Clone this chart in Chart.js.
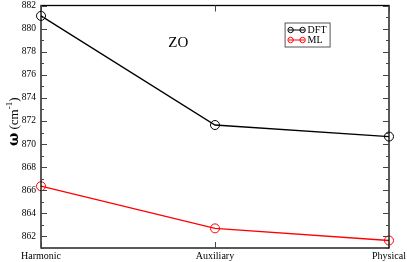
<!DOCTYPE html>
<html><head><meta charset="utf-8">
<script src="https://cdn.jsdelivr.net/npm/chart.js@4/dist/chart.umd.min.js"></script>
<style>html,body{margin:0;padding:0;background:#fff}#w{width:407px;height:262px}</style>
</head><body><div id="w"><canvas id="c"></canvas></div>
<script>
const categories = ["Harmonic", "Auxiliary", "Physical"];
const dftValues = [881.1, 871.65, 870.65];
const mlValues = [866.35, 862.7, 861.65];
const yMin = 861, yMax = 882;
const seriesLabels = ["DFT", "ML"];
const seriesColors = ["#000000", "#ff0000"];
const panelLabel = "ZO";
const FONT = "'Liberation Serif', 'Times New Roman', serif";

const framePlugin = {
  id: 'frame',
  afterDraw(chart) {
    const ctx = chart.ctx, a = chart.chartArea;
    const xs = chart.scales.x, ys = chart.scales.y;
    ctx.save();
    ctx.strokeStyle = '#000'; ctx.lineWidth = 1.3;
    ctx.strokeRect(a.left, a.top, a.right - a.left, a.bottom - a.top);
    ctx.lineWidth = 1; ctx.strokeStyle = '#444';
    for (let v = yMin; v <= yMax; v++) {
      const y = Math.round(ys.getPixelForValue(v)) + 0.5;
      const len = (v % 2 === 0) ? 6 : 3;
      ctx.beginPath();
      ctx.moveTo(a.left, y); ctx.lineTo(a.left + len, y);
      ctx.moveTo(a.right, y); ctx.lineTo(a.right - len, y);
      ctx.stroke();
    }
    for (let i = 0; i < categories.length; i++) {
      const x = Math.round(xs.getPixelForValue(i)) + 0.5;
      ctx.beginPath();
      ctx.moveTo(x, a.bottom); ctx.lineTo(x, a.bottom - 6);
      ctx.moveTo(x, a.top); ctx.lineTo(x, a.top + 6);
      ctx.stroke();
    }
    // y axis title
    ctx.fillStyle = '#000';
    ctx.save();
    ctx.translate(14, (a.top + a.bottom) / 2 - 5);
    ctx.rotate(-Math.PI / 2);
    ctx.textBaseline = 'alphabetic'; ctx.textAlign = 'left';
    const parts = [
      { t: 'ω', f: "bold 14px 'DejaVu Serif', serif", dy: 0 },
      { t: ' (cm', f: "13px " + FONT, dy: 0 },
      { t: '-1', f: "9px " + FONT, dy: -6 },
      { t: ')', f: "13px " + FONT, dy: 0 }
    ];
    let total = 0;
    parts.forEach(p => { ctx.font = p.f; p.w = ctx.measureText(p.t).width; total += p.w; });
    let px = -total / 2;
    parts.forEach(p => { ctx.font = p.f; ctx.fillText(p.t, px, 4 + p.dy); px += p.w; });
    ctx.restore();
    // panel label
    ctx.font = "15px " + FONT;
    ctx.textAlign = 'left'; ctx.textBaseline = 'middle';
    ctx.fillText(panelLabel, a.left + (a.right - a.left) * 0.366, a.top + 38);
    // legend
    const lx = a.left + (a.right - a.left) * 0.70, ly = a.top + 17;
    const bw = 45, bh = 24;
    ctx.lineWidth = 1; ctx.strokeStyle = '#555';
    ctx.strokeRect(lx + 0.5, ly + 0.5, bw, bh);
    ctx.font = "10px " + FONT; ctx.textBaseline = 'middle';
    chart.data.datasets.forEach((ds, k) => {
      const yy = ly + 7.5 + k * 10;
      ctx.strokeStyle = ds.borderColor; ctx.lineWidth = 1;
      ctx.beginPath(); ctx.moveTo(lx + 4, yy); ctx.lineTo(lx + 20, yy); ctx.stroke();
      [lx + 6, lx + 18].forEach(cx => { ctx.beginPath(); ctx.arc(cx, yy, 2.7, 0, Math.PI * 2); ctx.stroke(); });
      ctx.fillStyle = '#000';
      ctx.fillText(ds.label, lx + 23, yy + 0.5);
    });
    ctx.restore();
  }
};

new Chart(document.getElementById('c'), {
  type: 'line',
  data: {
    labels: categories,
    datasets: [
      { label: seriesLabels[0], data: dftValues, borderColor: seriesColors[0], backgroundColor: 'rgba(0,0,0,0)',
        borderWidth: 1.3, pointRadius: 4.5, pointBorderWidth: 1, pointBackgroundColor: 'rgba(0,0,0,0)', tension: 0, clip: false },
      { label: seriesLabels[1], data: mlValues, borderColor: seriesColors[1], backgroundColor: 'rgba(0,0,0,0)',
        borderWidth: 1.3, pointRadius: 4.5, pointBorderWidth: 1, pointBackgroundColor: 'rgba(0,0,0,0)', tension: 0, clip: false }
    ]
  },
  options: {
    responsive: true, maintainAspectRatio: false, animation: false,
    layout: { padding: { left: 0, right: 18, top: 4, bottom: 0 } },
    plugins: { legend: { display: false }, tooltip: { enabled: false } },
    scales: {
      x: {
        type: 'category', offset: false,
        grid: { display: false, drawTicks: false }, border: { display: false },
        ticks: { color: '#000', font: { family: FONT, size: 10 }, padding: 2, maxRotation: 0, autoSkip: false },
        afterFit(s) { s.height = 14; s.paddingLeft = 0; s.paddingRight = 0; }
      },
      y: {
        min: yMin, max: yMax,
        grid: { display: false, drawTicks: false }, border: { display: false },
        ticks: { stepSize: 1, color: '#000', font: { family: FONT, size: 9.5 }, padding: 5,
          callback: (v) => (v % 2 === 0 ? v : ''), autoSkip: false },
        afterFit(s) { s.width = 41; s.paddingTop = 0; s.paddingBottom = 0; }
      }
    }
  },
  plugins: [framePlugin]
});
</script></body></html>
